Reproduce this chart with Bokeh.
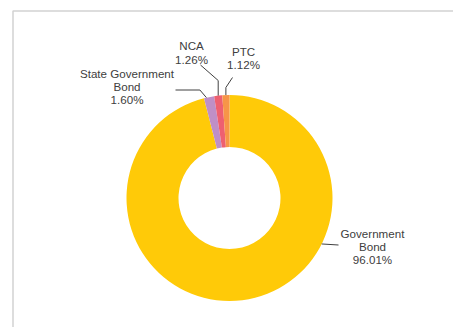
import math
from bokeh.plotting import figure
from bokeh.models import Range1d, ColumnDataSource
from bokeh.embed import file_html
from bokeh.resources import INLINE
from bokeh.core.properties import value

# ---- data ----
categories = ["Government Bond", "State Government Bond", "NCA", "PTC"]
label_lines = [["Government", "Bond"], ["State Government", "Bond"], ["NCA"], ["PTC"]]
shares = [96.01, 1.60, 1.26, 1.12]
pct_labels = ["96.01%", "1.60%", "1.26%", "1.12%"]
colors = ["#FFCA08", "#BF8FC6", "#EE6070", "#F79548"]

# ---- layout (pixel-like coordinates; data y = 327 - page y) ----
W, H = 453, 327
p = figure(width=W, height=H, output_backend="svg", toolbar_location=None,
           x_range=Range1d(0, W), y_range=Range1d(0, H),
           min_border=0, min_border_left=0, min_border_right=0,
           min_border_top=0, min_border_bottom=0)
p.axis.visible = False
p.grid.visible = False
p.outline_line_color = None
p.background_fill_color = "white"

def Y(py):
    return H - py

# container border
p.line(x=[12.5, 12.5, 460], y=[Y(335), Y(10.5), Y(10.5)], line_color="#d2d2d2", line_width=1.5)

cx, cy = 229, Y(197.5)
R_out, R_in = 103, 51

total = sum(shares)
cum = [0.0]
for s in shares:
    cum.append(cum[-1] + s / total)
start = [math.pi / 2 - cum[i + 1] * 2 * math.pi for i in range(len(shares))]
end = [math.pi / 2 - cum[i] * 2 * math.pi for i in range(len(shares))]

src = ColumnDataSource(dict(start=start, end=end, color=colors))
p.annular_wedge(x=cx, y=cy, inner_radius=R_in, outer_radius=R_out,
                start_angle="start", end_angle="end", color="color",
                line_color=None, source=src)

def polar(angle_from_top_cw, r):
    a = math.radians(angle_from_top_cw)
    return cx + r * math.sin(a), cy + r * math.cos(a)

mid_cw = [(cum[i] + cum[i + 1]) / 2 * 360 for i in range(len(shares))]
lead_angle = [116.5, mid_cw[1] - 1.5, mid_cw[2], mid_cw[3]]

txt_font = value("Liberation Sans")
fs = "11.6px"
tcol = "#404040"
lcol = "#404040"

def label(xc, ys, lines):
    p.text(x=[xc] * len(lines), y=[Y(v) for v in ys], text=lines,
           text_font=txt_font, text_font_size=fs, text_color=tcol,
           text_align="center", text_baseline="middle")

# Government Bond
x0, y0 = polar(lead_angle[0], R_out)
p.line(x=[x0, 338], y=[y0, Y(244.5)], line_color=lcol, line_width=1)
label(372, [233, 245.5, 258.5], label_lines[0] + [pct_labels[0]])

# State Government Bond
x0, y0 = polar(lead_angle[1], R_out)
p.line(x=[x0, x0 - 6.5, 175], y=[y0, Y(89.5), Y(89.5)], line_color=lcol, line_width=1)
label(126.5, [73, 86, 99], label_lines[1] + [pct_labels[1]])

# NCA
x0, y0 = polar(lead_angle[2], R_out)
p.line(x=[x0, x0, 200], y=[y0, Y(80), Y(64.5)], line_color=lcol, line_width=1)
label(191, [45, 58.5], label_lines[2] + [pct_labels[2]])

# PTC
x0, y0 = polar(lead_angle[3], R_out)
p.line(x=[x0, x0, 232], y=[y0, Y(87), Y(77)], line_color=lcol, line_width=1)
label(243, [50.5, 63.5], label_lines[3] + [pct_labels[3]])

open("out.html", "w").write(file_html(p, INLINE))
